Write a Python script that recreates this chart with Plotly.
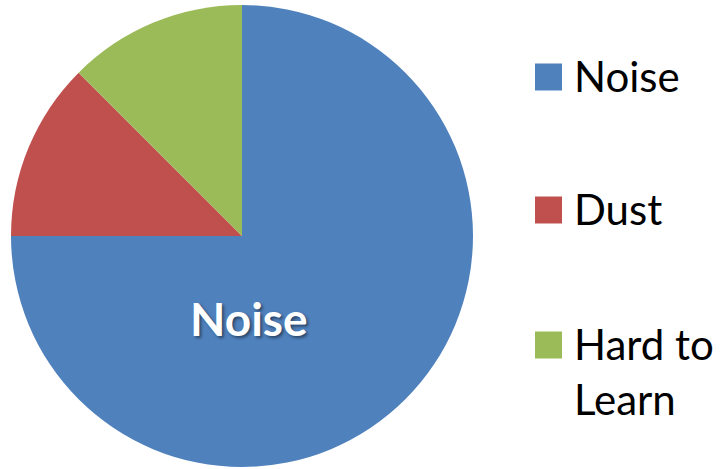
import plotly.graph_objects as go

labels = ["Noise", "Dust", "Hard to Learn"]
legend_text = ["Noise", "Dust", "Hard to<br>Learn"]
values = [75, 12.5, 12.5]
colors = ["#4F81BD", "#C0504D", "#9BBB59"]

W, H = 722, 469

fig = go.Figure()
fig.add_trace(go.Pie(
    labels=labels, values=values, sort=False, direction="clockwise", rotation=0,
    marker=dict(colors=colors, line=dict(width=0)),
    textinfo="none", showlegend=False, hoverinfo="label+percent",
    domain=dict(x=[11 / W, 473 / W], y=[1 - 467 / H, 1 - 5 / H]),
))

# in-slice label
fig.add_annotation(
    x=249 / W, y=1 - 318 / H, xref="paper", yref="paper", text="<b>Noise</b>",
    showarrow=False, xanchor="center", yanchor="middle",
    font=dict(family="Lato, Carlito, sans-serif", size=46, color="white",
              shadow="2px 2px 3px rgba(0,0,0,0.45)"),
)

# legend
rows = [77, 210, 345]
for lab, col, yc in zip(legend_text, colors, rows):
    fig.add_shape(type="rect", xref="paper", yref="paper",
                  x0=535 / W, x1=562 / W, y0=1 - (yc + 13.5) / H, y1=1 - (yc - 13.5) / H,
                  fillcolor=col, line=dict(width=0))
    fig.add_annotation(
        x=572 / W, y=1 - (yc - 28) / H, xref="paper", yref="paper", text=lab,
        showarrow=False, xanchor="left", yanchor="top", align="left",
        font=dict(family="Lato, Carlito, sans-serif", size=42, color="black"),
    )

fig.update_layout(
    width=W, height=H, margin=dict(l=0, r=0, t=0, b=0),
    paper_bgcolor="white", plot_bgcolor="white",
)
fig.write_html("out.html")
